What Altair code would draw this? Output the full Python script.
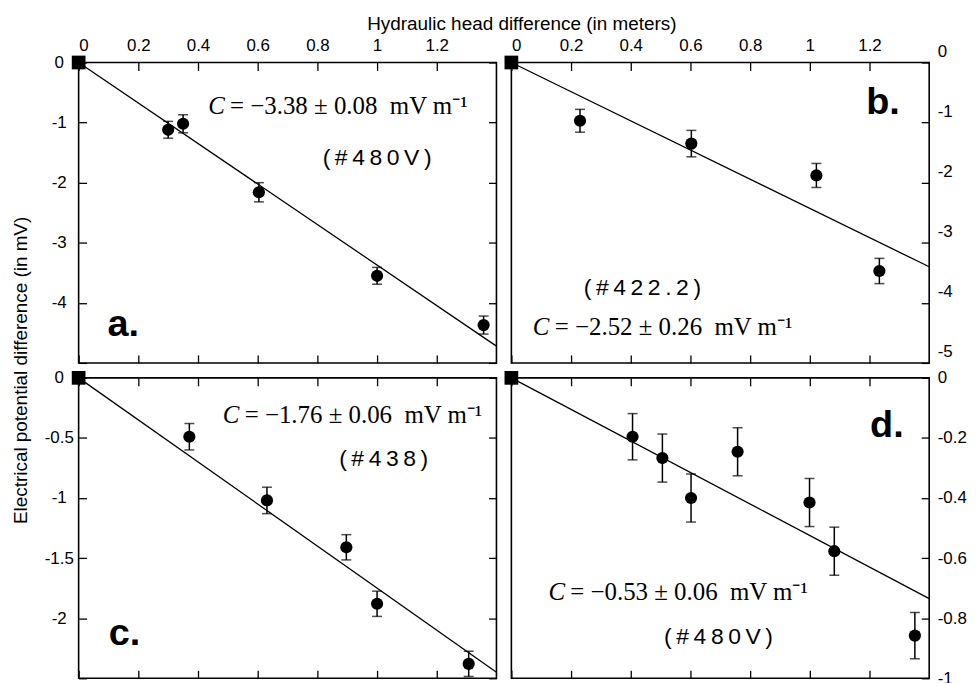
import altair as alt
import pandas as pd

# ---------------- data ----------------
# panel a (#480V)
head_a = [0.30, 0.35, 0.604, 1.00, 1.357]
pot_a = [-1.12, -1.02, -2.16, -3.55, -4.37]
err_a = [0.14, 0.15, 0.16, 0.14, 0.15]
fit_a = [0.0, -4.72]

# panel b (#422.2)
head_b = [0.23, 0.603, 1.022, 1.233]
pot_b = [-0.97, -1.35, -1.88, -3.47]
err_b = [0.19, 0.22, 0.20, 0.21]
fit_b = [0.0, -3.40]

# panel c (#438)
head_c = [0.371, 0.631, 0.897, 1.00, 1.307]
pot_c = [-0.49, -1.02, -1.41, -1.88, -2.38]
err_c = [0.11, 0.11, 0.105, 0.105, 0.105]
fit_c = [0.0, -2.45]

# panel d (#480V)
head_d = [0.406, 0.506, 0.602, 0.758, 0.999, 1.082, 1.352]
pot_d = [-0.196, -0.267, -0.40, -0.246, -0.415, -0.577, -0.858]
err_d = [0.077, 0.08, 0.08, 0.08, 0.08, 0.08, 0.077]
fit_d = [0.0, -0.735]

fit_x = [0.0, 1.4]
origin_x = [0.0]
origin_y = [0.0]

x_ticks = [0, 0.2, 0.4, 0.6, 0.8, 1.0, 1.2]
y_ticks_a = [0, -1, -2, -3, -4, -5]
y_labels_a = [0, -1, -2, -3, -4]
y_ticks_b = [0, -1, -2, -3, -4, -5]
y_labels_b = [0, -1, -2, -3, -4, -5]
y_ticks_c = [0, -0.5, -1, -1.5, -2, -2.5]
y_labels_c = [0, -0.5, -1, -1.5, -2]
y_ticks_d = [0, -0.2, -0.4, -0.6, -0.8, -1]
y_labels_d = [0, -0.2, -0.4, -0.6, -0.8, -1]

NB = "\u00a0"
SUP = "\u207b\u00b9"
eq_a = "= \u22123.38 \u00b1 0.08" + NB + " mV m" + SUP
eq_b = "= \u22122.52 \u00b1 0.26" + NB + " mV m" + SUP
eq_c = "= \u22121.76 \u00b1 0.06" + NB + " mV m" + SUP
eq_d = "= \u22120.53 \u00b1 0.06" + NB + " mV m" + SUP
TS = "\u2009"
id_a = TS.join("(#480V)")
id_b = TS.join("(#422.2)")
id_c = TS.join("(#438)")
id_d = TS.join("(#480V)")

x_title = "Hydraulic head difference (in meters)"
y_title = "Electrical potential difference (in mV)"

# ---------------- styling ----------------
W, H = 420, 302
XMAX = 1.4
SANS = "Liberation Sans"
SERIF = "Liberation Serif"
NEG = "datum.value < 0 ? '-' + format(-datum.value, '~g') : format(datum.value, '~g')"
TICK_COLOR = "black"


def panel(head, pot, err, fit_y, y_dom, y_ticks, y_labels, side, top_labels,
          letter, letter_xy, eq, eq_xy, ident, ident_xy, label_offset=0,
          top_title=None, side_title=None):
    xs = alt.Scale(domain=[0, XMAX], nice=False, zero=False)
    ys = alt.Scale(domain=y_dom, nice=False, zero=False)
    pts = pd.DataFrame({
        "x": head, "y": pot,
        "lo": [p - e for p, e in zip(pot, err)],
        "hi": [p + e for p, e in zip(pot, err)],
    })
    fit = pd.DataFrame({"x": fit_x, "y": fit_y})
    org = pd.DataFrame({"x": origin_x, "y": origin_y})

    tk = dict(labels=False, domain=False, ticks=True, tickSize=8, tickWidth=1.3,
              tickColor=TICK_COLOR, grid=False)
    x_bottom_in = alt.Axis(orient="top", offset=-H, values=x_ticks, **tk)
    x_top_in = alt.Axis(orient="bottom", offset=-H, values=x_ticks, **tk)
    y_right_in = alt.Axis(orient="left", offset=-W, values=y_ticks, **tk)
    y_left_in = alt.Axis(orient="right", offset=-W, values=y_ticks, **tk) if side == "left" else None

    lab = dict(labels=True, ticks=False, domain=False, grid=False, labelExpr=NEG,
               labelFont=SANS, labelFontSize=17, labelColor="black")
    x_lab = None
    if top_labels:
        xkw = dict(orient="top", values=x_ticks, labelPadding=8, **lab)
        if top_title:
            xkw.update(titleX=445, titleY=-33, titleBaseline="alphabetic",
                       titleAlign="center", titleFont=SANS, titleFontSize=19,
                       titleFontWeight="normal", titleColor="black")
        x_lab = alt.Axis(**xkw)
    ykw = dict(orient=side, values=y_labels, labelBaseline="middle", **lab)
    if side == "left":
        ykw.update(labelAlign="center", labelPadding=20)
    else:
        ykw.update(labelAlign="left", labelPadding=8, labelOffset=label_offset)
    if side_title:
        ykw.update(titleX=-58, titleY=309, titleAngle=270, titleBaseline="middle",
                   titleAlign="center", titleFont=SANS, titleFontSize=19,
                   titleFontWeight="normal", titleColor="black")
    y_lab = alt.Axis(**ykw)

    def X(axis, title=None):
        return alt.X("x:Q", scale=xs, axis=axis, title=title)

    def Y(axis, title=None):
        return alt.Y("y:Q", scale=ys, axis=axis, title=title)

    line = alt.Chart(fit).mark_line(color="black", strokeWidth=1.3).encode(
        x=X(x_bottom_in), y=Y(y_right_in))
    bars = alt.Chart(pts).mark_errorbar(ticks=True, size=10, thickness=1.5, color="black").encode(
        x=X(None), y=alt.Y("lo:Q", scale=ys, axis=None, title=None), y2="hi:Q")
    dots = alt.Chart(pts).mark_circle(size=150, color="black", opacity=1).encode(
        x=X(x_lab, top_title), y=Y(y_lab, side_title))
    sq = alt.Chart(org).mark_square(size=190, color="black", opacity=1).encode(
        x=X(x_top_in), y=Y(y_left_in))

    def txt(xy, t, **mk):
        df = pd.DataFrame({"x": [xy[0]], "y": [xy[1]], "t": [t]})
        return alt.Chart(df).mark_text(color="black", baseline="alphabetic", **mk).encode(
            x=X(None), y=Y(None), text="t:N")

    t_letter = txt(letter_xy, letter, font=SANS, fontSize=38, fontWeight="bold", align="left")
    t_c = txt(eq_xy, "C", font=SERIF, fontSize=25, fontStyle="italic", align="left")
    t_eq = txt(eq_xy, eq, font=SERIF, fontSize=25, align="left", dx=22)
    t_id = txt(ident_xy, ident, font=SANS, fontSize=23, align="center")

    return alt.layer(line, bars, dots, sq, t_letter, t_c, t_eq, t_id).resolve_axis(
        x="independent", y="independent").properties(width=W, height=H)


pa = panel(head_a, pot_a, err_a, fit_a, [-5, 0], y_ticks_a, y_labels_a, "left", True,
           "a.", (0.097, -4.56), eq_a, (0.434, -0.85), id_a, (1.0, -1.70),
           top_title=x_title, side_title=y_title)
pb = panel(head_b, pot_b, err_b, fit_b, [-5, 0], y_ticks_b, y_labels_b, "right", True,
           "b.", (1.189, -0.857), eq_b, (0.072, -4.53), id_b, (0.439, -3.87),
           label_offset=-11)
pc = panel(head_c, pot_c, err_c, fit_c, [-2.5, 0], y_ticks_c, y_labels_c, "left", False,
           "c.", (0.101, -2.22), eq_c, (0.483, -0.379), id_c, (1.022, -0.73))
pd_ = panel(head_d, pot_d, err_d, fit_d, [-1, 0], y_ticks_d, y_labels_d, "right", False,
            "d.", (1.202, -0.196), eq_d, (0.124, -0.739), id_d, (0.694, -0.885))

chart = alt.concat(pa, pb, pc, pd_, columns=2, spacing=15, bounds="flush").configure_view(
    stroke="black", strokeWidth=1.6).properties(
    padding={"left": 3, "top": 4, "right": 0, "bottom": 0})

chart.save("out.html", embed_options={"renderer": "svg", "actions": False})
